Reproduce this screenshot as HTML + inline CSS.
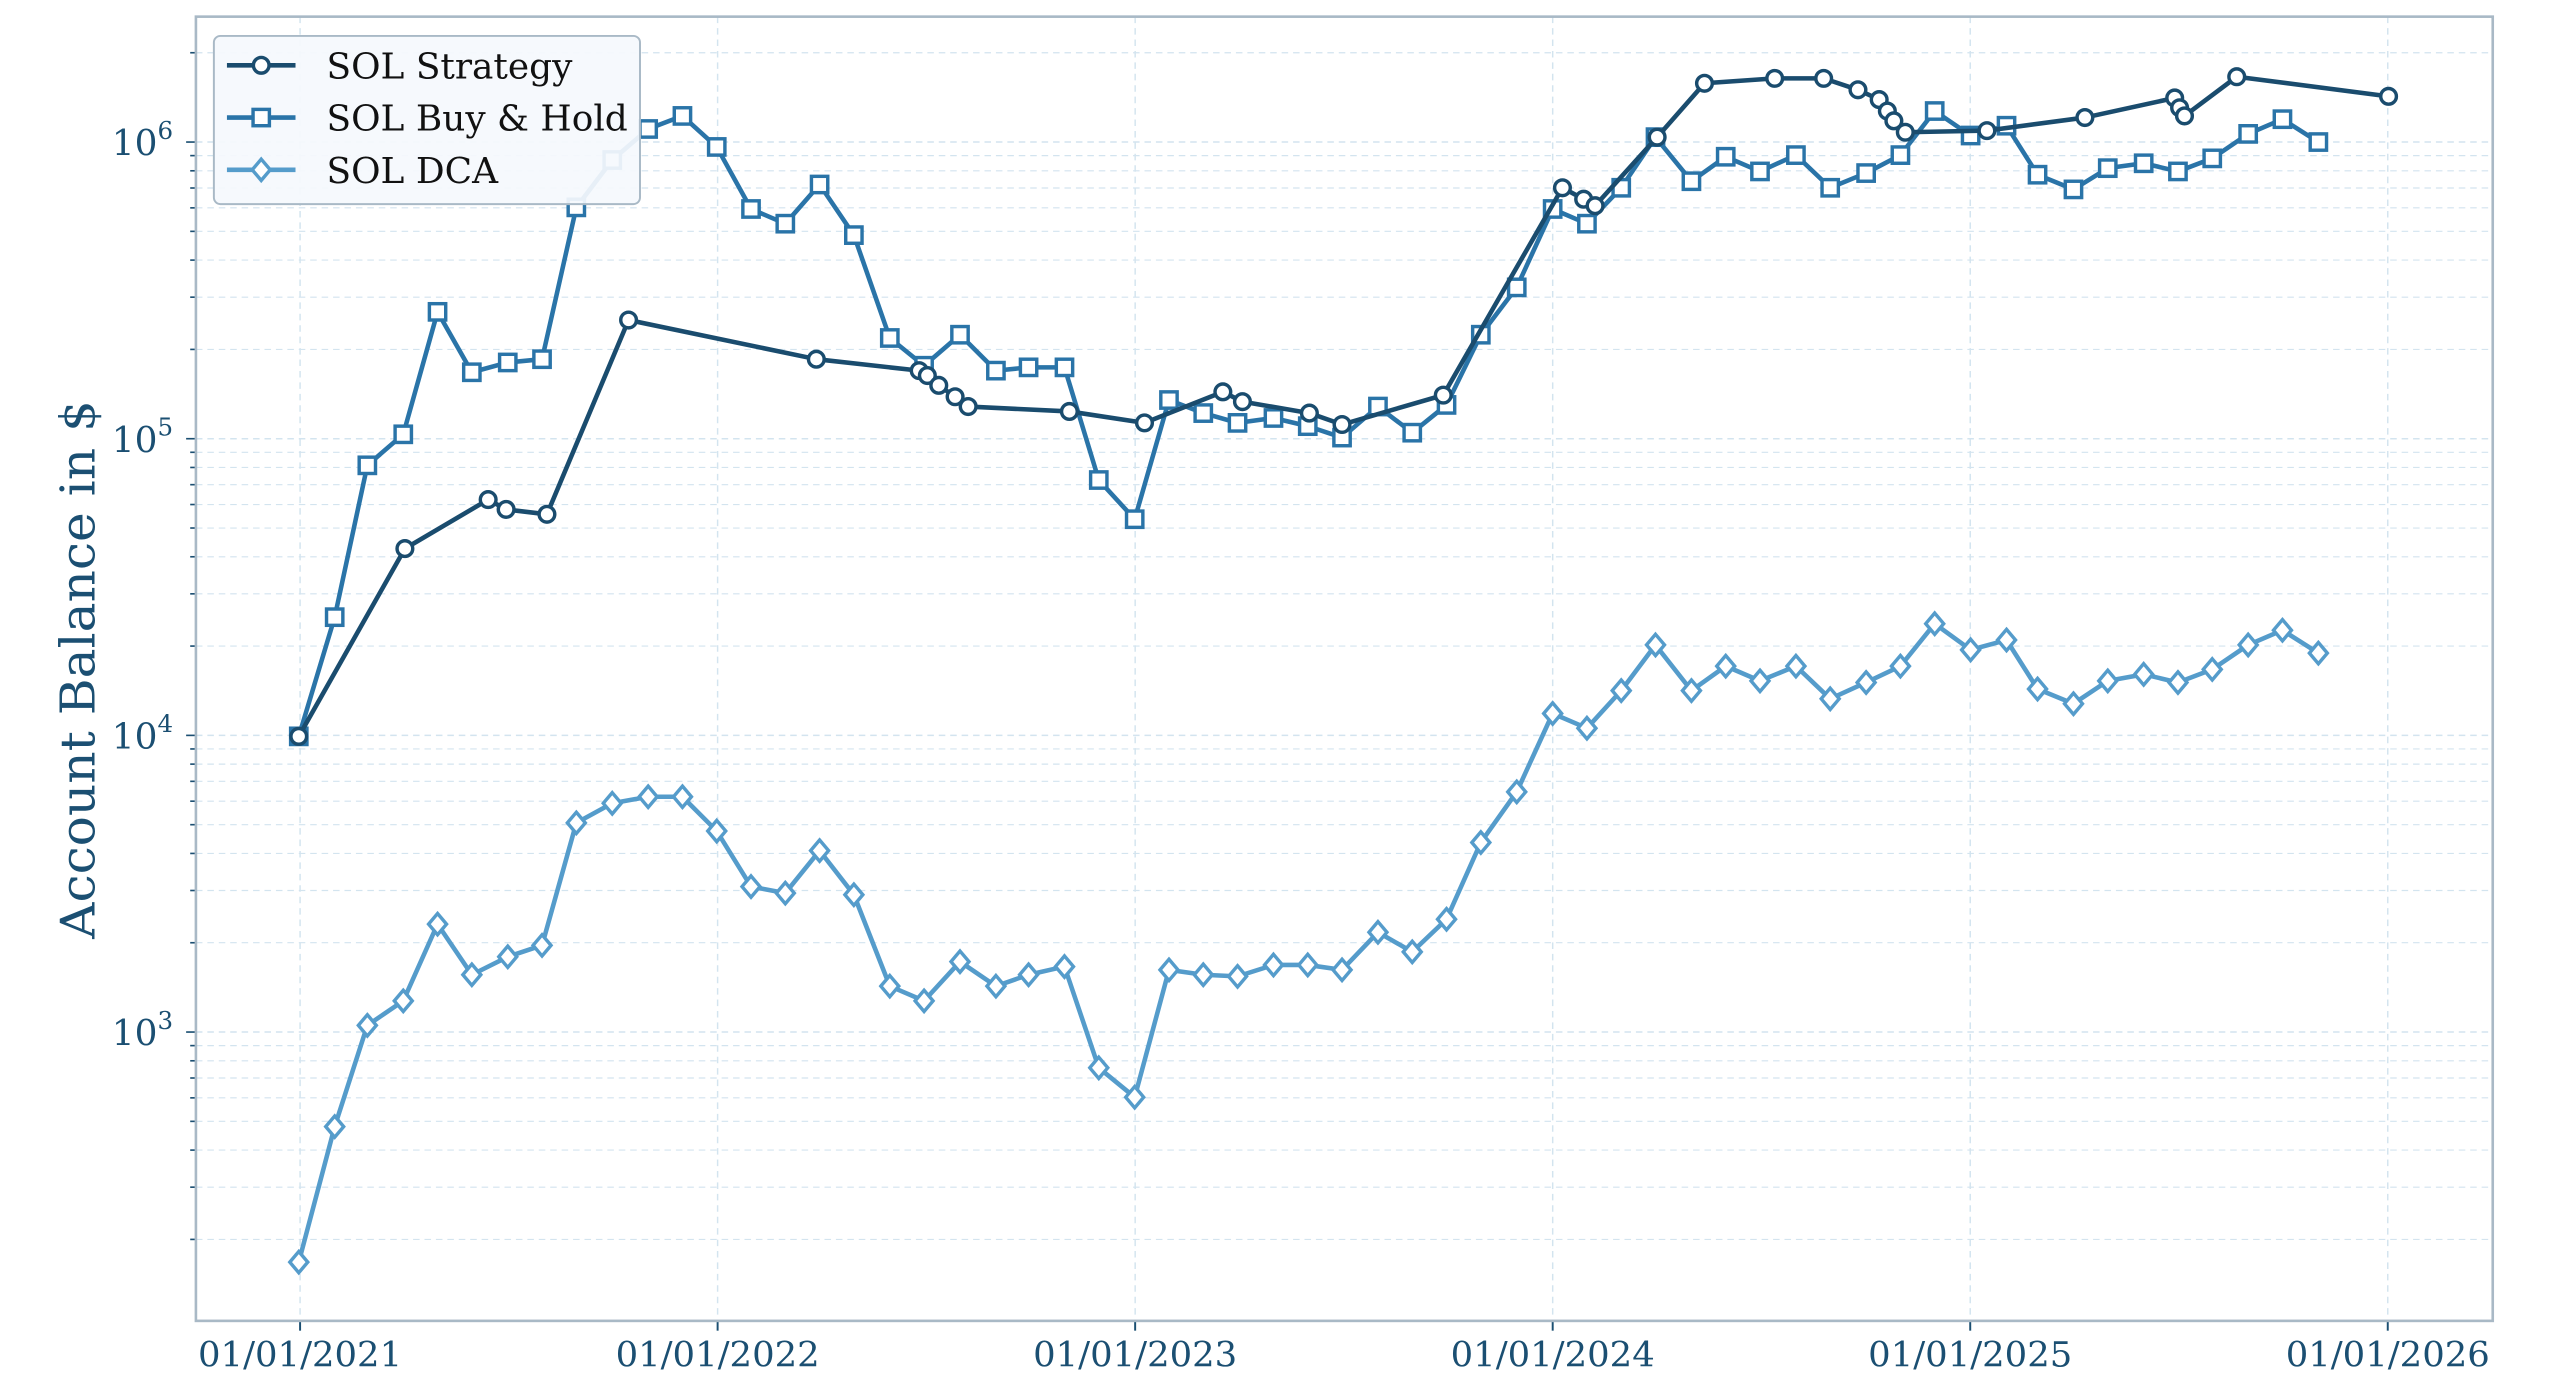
<!DOCTYPE html>
<html><head><meta charset="utf-8">
<style>
html,body{margin:0;padding:0;background:#fff;}
svg{display:block;}
text{font-family:"DejaVu Serif","Liberation Serif",serif;}
</style></head>
<body>
<svg id="c" width="2560" height="1387" viewBox="0 0 1568 849.5" preserveAspectRatio="none" xmlns="http://www.w3.org/2000/svg"></svg>
<script>
const S=document.getElementById('c');
const L=120,T=10.2,R=1526.8,B=809;
const Y=v=>87+(6-Math.log10(v))*181.7;
let h='';
for(let k=2;k<=6;k++){for(let m=1;m<=9;m++){const y=Y(m*Math.pow(10,k));if(y<T||y>B)continue;
h+=`<line x1="${L}" x2="${R}" y1="${y}" y2="${y}" stroke="#d3e4ef" stroke-width="${m==1?0.9:0.7}" stroke-dasharray="4,3"/>`;
h+=`<line x1="${L-(m==1?6:3.5)}" x2="${L}" y1="${y}" y2="${y}" stroke="#1b4f72" stroke-width="1"/>`;}}
const years=[2021,2022,2023,2024,2025,2026];
years.forEach((yr,i)=>{const x=183.8+i*255.74;
h+=`<line x1="${x}" x2="${x}" y1="${T}" y2="${B}" stroke="#d3e4ef" stroke-width="0.9" stroke-dasharray="4,3"/>`;
h+=`<line x1="${x}" x2="${x}" y1="${B}" y2="${B+6}" stroke="#1b4f72" stroke-width="1.2"/>`;
h+=`<text x="${x}" y="${B+28}" font-size="21" fill="#1b4f72" text-anchor="middle" font-stretch="condensed" textLength="125" lengthAdjust="spacingAndGlyphs">01/01/${yr}</text>`;});
[6,5,4,3].forEach(e=>{const y=Y(Math.pow(10,e));
h+=`<text x="106" y="${y+8}" font-size="22" fill="#1b4f72" text-anchor="end">10<tspan dy="-10" font-size="15">${e}</tspan></text>`;});
h+=`<rect x="${L}" y="${T}" width="${R-L}" height="${B-T}" fill="none" stroke="#a9b9c6" stroke-width="1.6"/>`;
h+=`<text transform="translate(58,410) rotate(-90)" font-size="29" fill="#1b4f72" text-anchor="middle" textLength="330" lengthAdjust="spacingAndGlyphs">Account Balance in $</text>`;
const strat=[[183,451],[248,336],[299,306],[310,312],[335,315],[385,196],[500,220],[563,227],[568,230],[575,236],[585,243],[593,249],[655,252],[701,259],[749,240],[761,246],[802,253],[822,260],[884,242],[957,115],[970,122],[977,126],[1015,84],[1044,51],[1087,48],[1117,48],[1138,55],[1151,61],[1156,68],[1160,74],[1167,81],[1217,80],[1277,72],[1332,60],[1335,66],[1338,71],[1370,47],[1463,59]];
const bh=[[183,451],[205,378],[225,285],[247,266],[268,191],[289,228],[311,222],[332,220],[353,127],[375,98],[397,79],[418,71],[439,90],[460,128],[481,137],[502,113],[523,144],[545,207],[566,224],[588,205],[610,227],[630,225],[652,225],[673,294],[695,318],[716,245],[737,253],[758,259],[780,256],[801,261],[822,268],[844,249],[865,265],[886,248],[907,205],[929,176],[951,128],[972,137],[993,115],[1014,84],[1036,111],[1057,96],[1078,105],[1100,95],[1121,115],[1143,106],[1164,95],[1185,68],[1207,83],[1229,77],[1248,107],[1270,116],[1291,103],[1313,100],[1334,105],[1355,97],[1377,82],[1398,73],[1420,87]];
const dca=[[183,773],[205,690],[225,628],[247,613],[268,566],[289,597],[311,586],[332,579],[353,504],[375,492],[397,488],[418,488],[439,509],[460,543],[481,547],[502,521],[523,548],[545,604],[566,613],[588,589],[610,604],[630,597],[652,592],[673,654],[695,672],[716,594],[737,597],[758,598],[780,591],[801,591],[822,594],[844,571],[865,583],[886,563],[907,516],[929,485],[951,437],[972,446],[993,423],[1014,395],[1036,423],[1057,408],[1078,417],[1100,408],[1121,428],[1143,418],[1164,408],[1185,382],[1207,398],[1229,392],[1248,422],[1270,431],[1291,417],[1313,413],[1334,418],[1355,410],[1377,395],[1398,386],[1420,400]];
const mk=(t,x,y,c)=>t=='o'?`<circle cx="${x}" cy="${y}" r="4.8" fill="#fff" stroke="${c}" stroke-width="2.1"/>`:
 t=='s'?`<rect x="${x-5}" y="${y-5}" width="10" height="10" fill="#fff" stroke="${c}" stroke-width="2.1"/>`:
 `<polygon points="${x},${y-6.5} ${x+5.5},${y} ${x},${y+6.5} ${x-5.5},${y}" fill="#fff" stroke="${c}" stroke-width="2.1"/>`;
function series(p,c,t){h+=`<polyline points="${p.map(q=>q.join(',')).join(' ')}" fill="none" stroke="${c}" stroke-width="2.8" stroke-linejoin="round"/>`;p.forEach(q=>h+=mk(t,q[0],q[1],c));}
series(dca,'#559ccb','d');series(bh,'#2a74a8','s');series(strat,'#1a4c6e','o');
h+=`<rect x="131" y="22" width="261" height="103" rx="4" fill="#f5f9fd" fill-opacity="0.93" stroke="#a9b9c6" stroke-width="1.2"/>`;
[['SOL Strategy','#1a4c6e','o',40],['SOL Buy & Hold','#2a74a8','s',72],['SOL DCA','#559ccb','d',104]].forEach(([n,c,t,y])=>{
h+=`<line x1="139" x2="181" y1="${y}" y2="${y}" stroke="${c}" stroke-width="2.8"/>`+mk(t,160,y,c);
h+=`<text x="200" y="${y+8}" font-size="22" fill="#111">${n.replace('&','&amp;')}</text>`;});
S.innerHTML=h;
</script>
</body></html>
